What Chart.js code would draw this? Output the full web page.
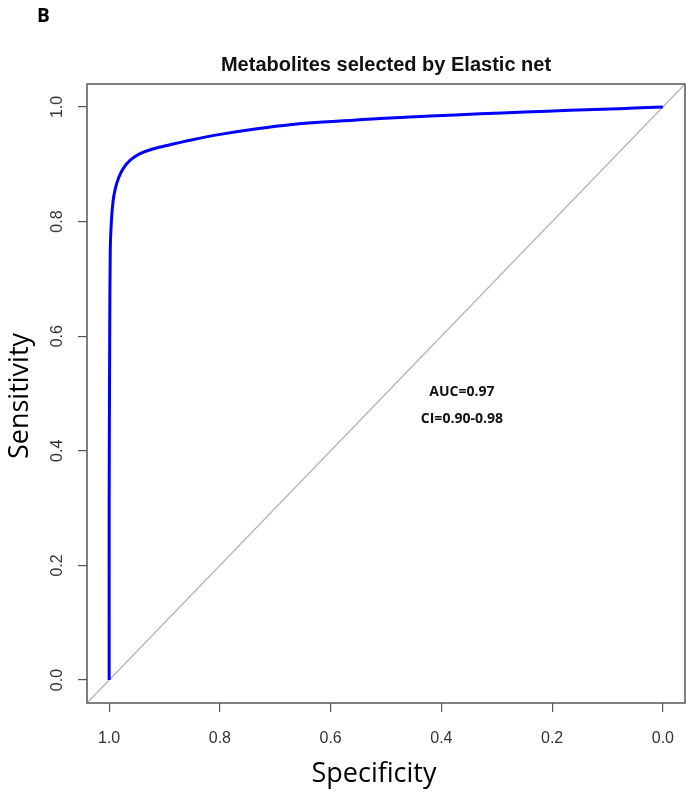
<!DOCTYPE html>
<html>
<head>
<meta charset="utf-8">
<script src="https://cdn.jsdelivr.net/npm/chart.js@4"></script>
<style>
  body { margin: 0; background: #fff; }
  canvas { display: block; }
</style>
</head>
<body>
<canvas id="rocChart" width="686" height="799"></canvas>
<script>
// ROC curve (specificity runs 1 -> 0)
const specificity = [1.0, 1.0, 0.999, 0.998, 0.996, 0.993, 0.989, 0.983, 0.975, 0.962, 0.945, 0.920, 0.890, 0.854, 0.794, 0.733, 0.673, 0.590, 0.511, 0.420, 0.330, 0.250, 0.168, 0.080, 0.0];
const sensitivity = [0.0, 0.3, 0.6, 0.75, 0.80, 0.835, 0.857, 0.876, 0.892, 0.907, 0.918, 0.927, 0.934, 0.942, 0.953, 0.962, 0.969, 0.975, 0.980, 0.984, 0.988, 0.991, 0.994, 0.997, 1.0];
const diagonalX = [1.04, -0.04];
const diagonalY = [-0.04, 1.04];
const tickValues = [0.0, 0.2, 0.4, 0.6, 0.8, 1.0];
const tickLabels = ["0.0", "0.2", "0.4", "0.6", "0.8", "1.0"];
const aucLines = ["AUC=0.97", "CI=0.90-0.98"];
const aucPos = { x: 0.363, y: [0.503, 0.455] };

const rocPoints = specificity.map((s, i) => ({ x: s, y: sensitivity[i] }));
const diagPoints = diagonalX.map((s, i) => ({ x: s, y: diagonalY[i] }));

const setTicks = (scale) => {
    scale.ticks = tickValues.map(v => ({ value: v }));
};

// box around plot, rotated y tick labels, axis titles, AUC text and panel letter
const extrasPlugin = {
    id: 'extras',
    afterDraw(chart) {
        const ctx = chart.ctx;
        const a = chart.chartArea;
        const xs = chart.scales.x;
        const ys = chart.scales.y;
        ctx.save();
        ctx.strokeStyle = '#555';
        ctx.lineWidth = 1.5;
        ctx.strokeRect(a.left, a.top, a.right - a.left, a.bottom - a.top);

        ctx.fillStyle = '#333';
        ctx.font = '16px "Liberation Sans", Arial, sans-serif';
        ctx.textAlign = 'center';
        ctx.textBaseline = 'middle';
        tickValues.forEach((v, i) => {
            const py = ys.getPixelForValue(v);
            ctx.save();
            ctx.translate(58, py);
            ctx.rotate(-Math.PI / 2);
            ctx.fillText(tickLabels[i], 0, 0);
            ctx.restore();
        });

        ctx.fillStyle = '#000';
        ctx.font = '27px "Open Sans", sans-serif';
        ctx.fillText('Specificity', 374, 774);
        ctx.save();
        ctx.translate(20, 396);
        ctx.rotate(-Math.PI / 2);
        ctx.fillText('Sensitivity', 0, 0);
        ctx.restore();

        ctx.fillStyle = '#111';
        ctx.font = 'bold 14px "Open Sans", sans-serif';
        aucLines.forEach((t, i) => {
            ctx.fillText(t, xs.getPixelForValue(aucPos.x), ys.getPixelForValue(aucPos.y[i]));
        });

        ctx.fillStyle = '#000';
        ctx.font = 'bold 19px "Open Sans", sans-serif';
        ctx.textAlign = 'left';
        ctx.fillText('B', 37, 17);
        ctx.restore();
    }
};

new Chart(document.getElementById('rocChart'), {
    type: 'line',
    data: {
        datasets: [
            {
                data: rocPoints,
                borderColor: '#0000ff',
                borderWidth: 3,
                pointRadius: 0,
                tension: 0.3,
                fill: false
            },
            {
                data: diagPoints,
                borderColor: '#b4b4b4',
                borderWidth: 1.3,
                pointRadius: 0,
                tension: 0,
                fill: false
            }
        ]
    },
    options: {
        responsive: false,
        animation: false,
        layout: { padding: { left: 0, right: 1, top: 0, bottom: 0 } },
        plugins: {
            legend: { display: false },
            tooltip: { enabled: false },
            title: {
                display: true,
                text: 'Metabolites selected by Elastic net',
                fullSize: false,
                color: '#111',
                font: { family: '"Liberation Sans", Arial, sans-serif', size: 20, weight: 'bold', lineHeight: 1.2 },
                padding: { top: 53, bottom: 7 }
            }
        },
        scales: {
            x: {
                type: 'linear',
                reverse: true,
                min: -0.04,
                max: 1.04,
                afterBuildTicks: setTicks,
                afterFit: (scale) => { scale.height = 96; },
                border: { display: false },
                grid: { drawOnChartArea: false, drawTicks: true, tickLength: 9, color: '#555', lineWidth: 1.2 },
                ticks: {
                    color: '#333',
                    padding: 17,
                    maxRotation: 0,
                    font: { family: '"Liberation Sans", Arial, sans-serif', size: 16 },
                    callback: (v) => tickLabels[tickValues.indexOf(v)]
                }
            },
            y: {
                type: 'linear',
                min: -0.04,
                max: 1.04,
                afterBuildTicks: setTicks,
                afterFit: (scale) => { scale.width = 87; },
                border: { display: false },
                grid: { drawOnChartArea: false, drawTicks: true, tickLength: 9, color: '#555', lineWidth: 1.2 },
                ticks: { display: false }
            }
        }
    },
    plugins: [extrasPlugin]
});
</script>
</body>
</html>
